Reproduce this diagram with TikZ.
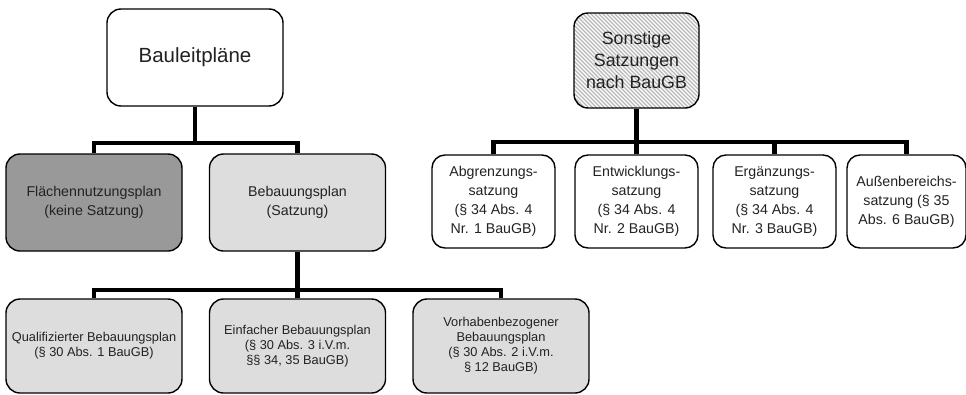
\documentclass[tikz,border=0pt]{standalone}
\usepackage{fontspec}
\setmainfont{Liberation Sans}
\usetikzlibrary{calc}
\definecolor{darkfill}{HTML}{999999}
\definecolor{lightfill}{HTML}{DDDDDD}
\definecolor{txt}{HTML}{222222}
\definecolor{hatch}{HTML}{B8B8B8}
\begin{document}
\begin{tikzpicture}[x=1pt,y=1pt,
  box/.style={draw=black, line width=1.4pt, rounded corners=14pt, align=center,
              inner sep=0pt, text=txt},
  bigbox/.style={box, minimum width=176pt, minimum height=97pt},
  lowbox/.style={box, minimum width=176pt, minimum height=94pt, fill=lightfill,
                 font=\fontsize{12.8}{15}\selectfont},
  smallbox/.style={box, rounded corners=13pt, minimum width=123pt, minimum height=93pt,
                   font=\fontsize{14.2}{19}\selectfont},
  midfont/.style={font=\fontsize{14.2}{19.6}\selectfont},
  hatched/.style={path picture={
      \foreach \i in {-100,-96,...,132}
        \draw[hatch, line width=1.3pt]
          ($(path picture bounding box.north west)+(\i,0)$) -- ++(100,-100);}},
  conn/.style={line width=4.5pt, line join=miter, draw=black}]
\useasboundingbox (0,0) rectangle (966,-394);

% left tree
\node[bigbox, fill=white, font=\fontsize{20.5}{24}\selectfont] (bau) at (195,-57.5) {Bauleitpläne};
\node[bigbox, fill=darkfill, midfont] (fnp) at (94,-202.5) {Flächennutzungsplan\\(keine Satzung)};
\node[bigbox, fill=lightfill, midfont] (bp) at (297.5,-202.5) {Bebauungsplan\\(Satzung)};
\node[lowbox] (q) at (94,-346) {Qualifizierter Bebauungsplan\\(§ 30 Abs. 1 BauGB)};
\node[lowbox] (e) at (297.5,-346) {Einfacher Bebauungsplan\\(§ 30 Abs. 3 i.V.m.\\§§ 34, 35 BauGB)};
\node[lowbox] (v) at (501,-346) {Vorhabenbezogener\\Bebauungsplan\\(§ 30 Abs. 2 i.V.m.\\§ 12 BauGB)};

% right tree
\node[box, fill=white, hatched, minimum width=125pt, minimum height=95pt,
      font=\fontsize{17.8}{22}\selectfont] (son) at (636.5,-60.5) {Sonstige\\Satzungen\\nach BauGB};
\node[smallbox] (ab) at (493.5,-201.5) {Abgrenzungs-\\satzung\\(§ 34 Abs. 4\\Nr. 1 BauGB)};
\node[smallbox] (ent) at (636.5,-201.5) {Entwicklungs-\\satzung\\(§ 34 Abs. 4\\Nr. 2 BauGB)};
\node[smallbox] (erg) at (774.5,-201.5) {Ergänzungs-\\satzung\\(§ 34 Abs. 4\\Nr. 3 BauGB)};
\node[smallbox, minimum width=119pt] (aus) at (906.5,-201.5) {Außenbereichs-\\satzung (§ 35\\Abs. 6 BauGB)};

% connectors
\coordinate (busA) at (0,-143);
\coordinate (busB) at (0,-290);
\coordinate (busC) at (0,-142);

\draw[conn] (bau.south) -- (bau.south |- busA);
\draw[conn] (fnp.north) -- (fnp.north |- busA) -- (bp.north |- busA) -- (bp.north);

\draw[conn] (bp.south) -- (bp.south |- busB);
\draw[conn] (q.north) -- (q.north |- busB) -- (v.north |- busB) -- (v.north);
\draw[conn] (e.north) -- (e.north |- busB);

\draw[conn] (son.south) -- (son.south |- busC);
\draw[conn] (ab.north) -- (ab.north |- busC) -- (aus.north |- busC) -- (aus.north);
\draw[conn] (ent.north) -- (ent.north |- busC);
\draw[conn] (erg.north) -- (erg.north |- busC);
\end{tikzpicture}
\end{document}
